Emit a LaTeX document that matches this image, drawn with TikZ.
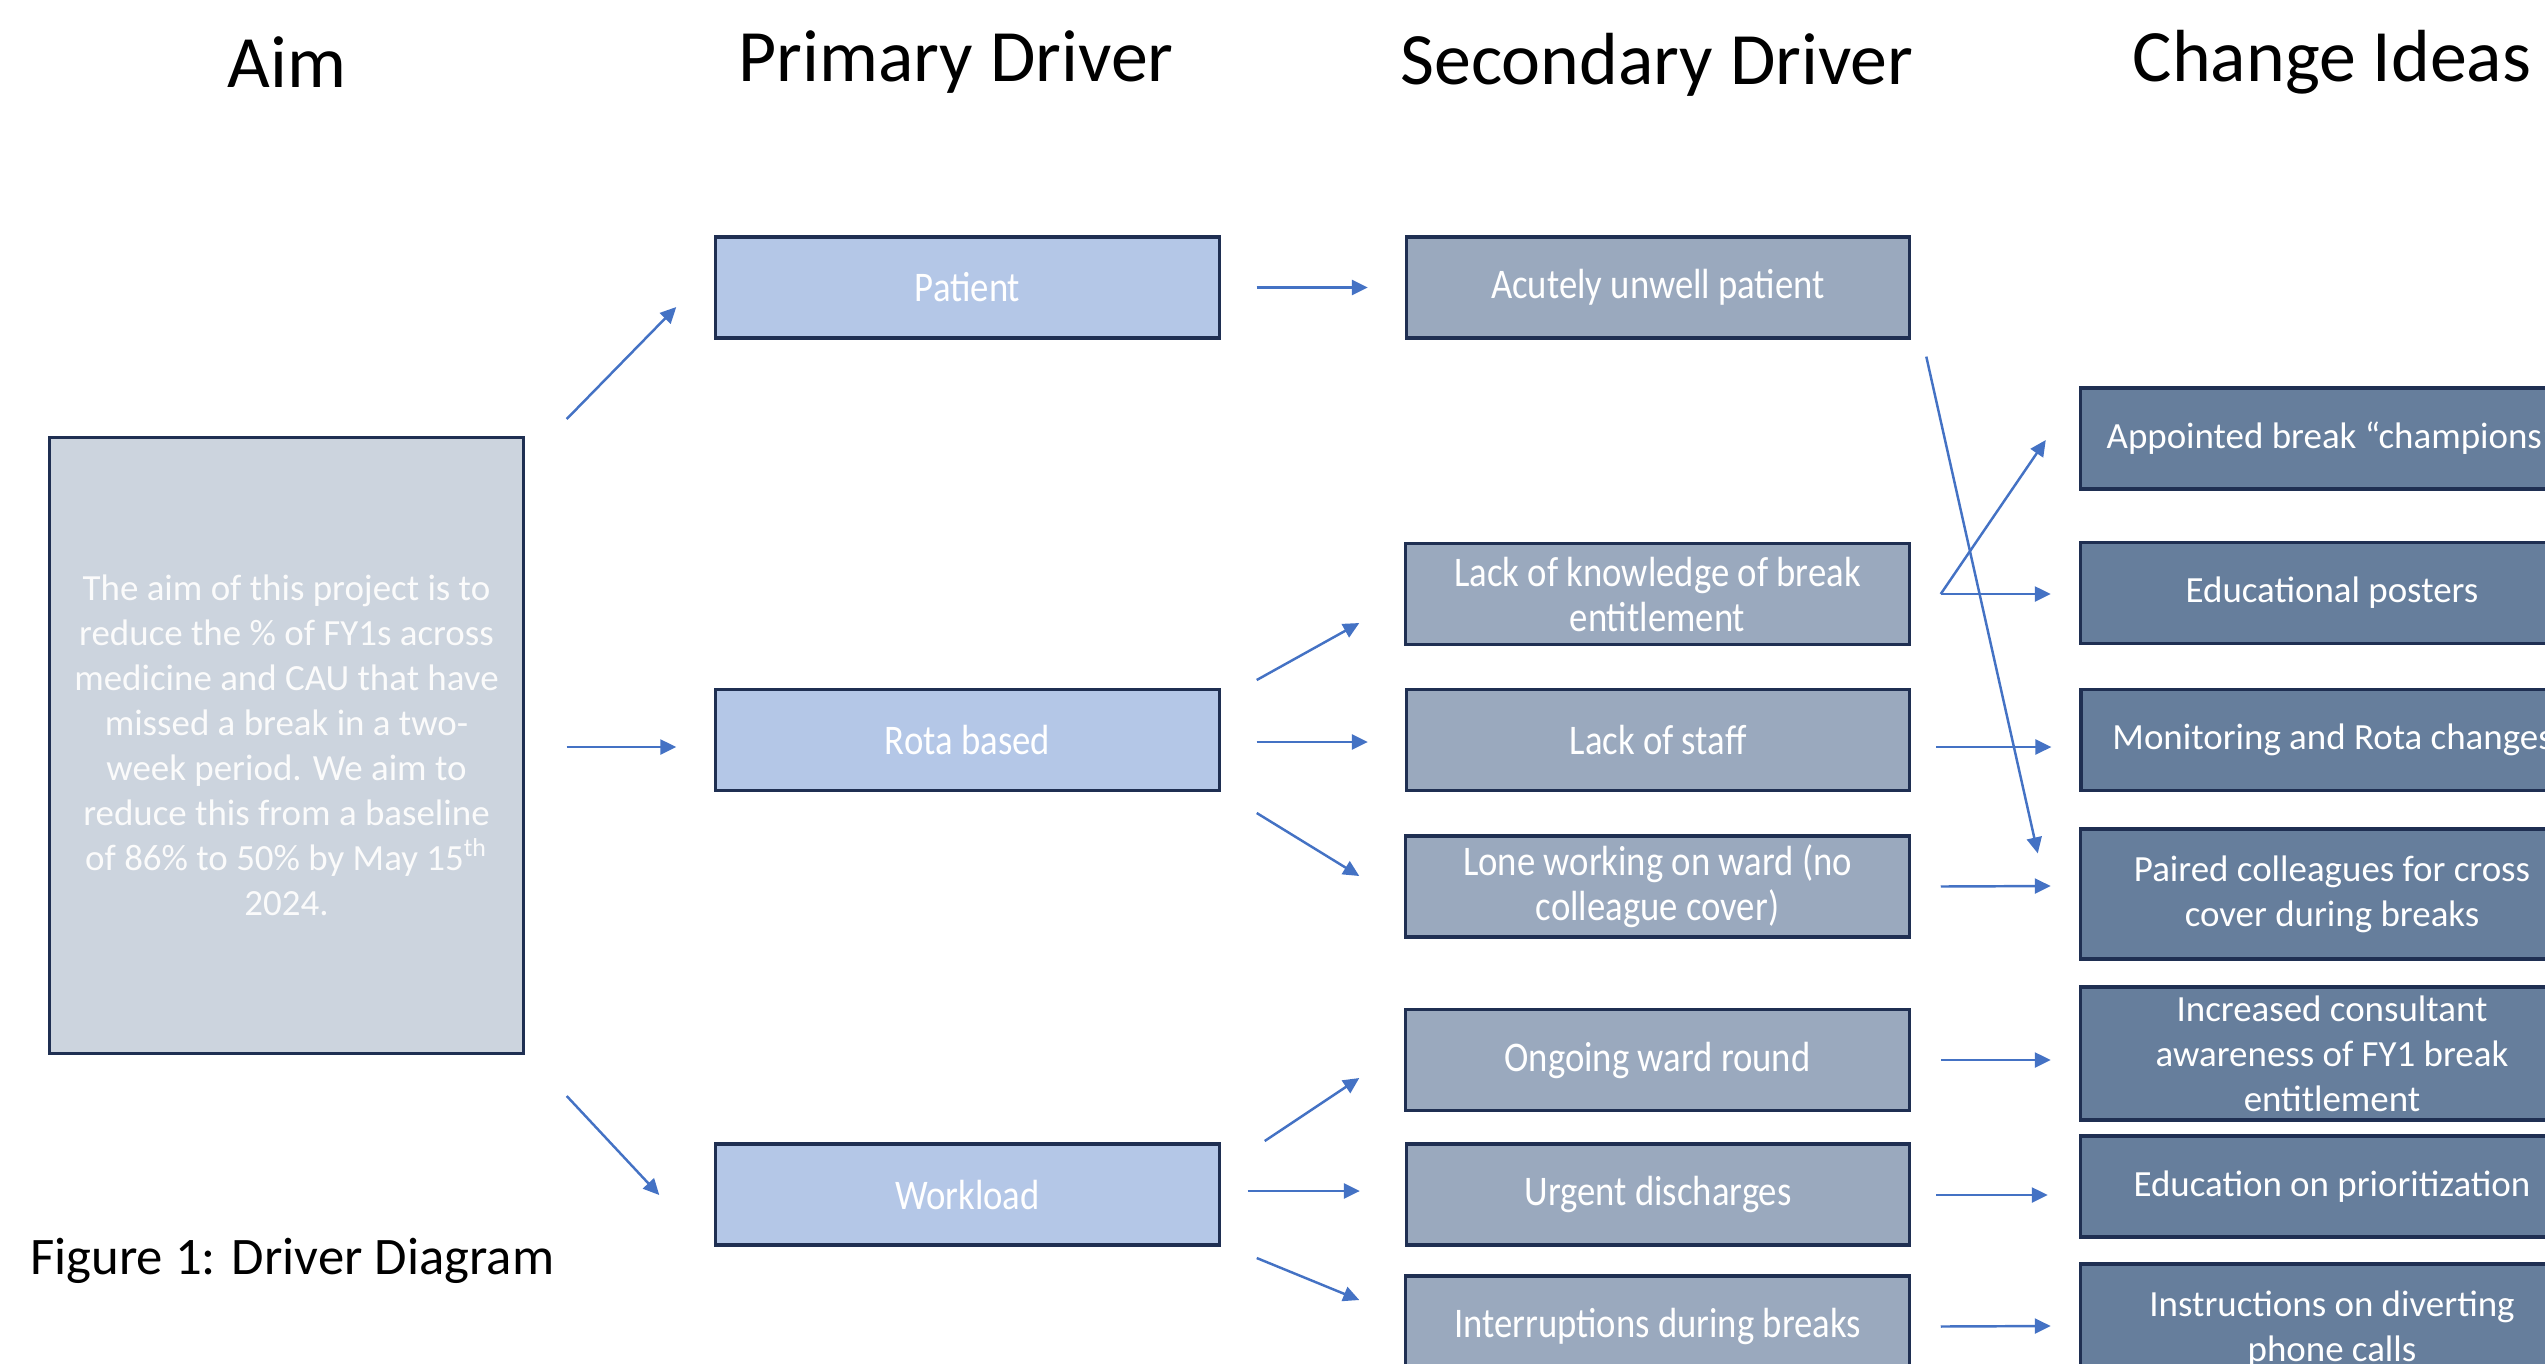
\documentclass[tikz,border=0pt]{standalone}
\usepackage{fontspec}
\setmainfont{Carlito}
\newfontfamily\narrowfont{Carlito}[FakeStretch=0.87]
\usetikzlibrary{positioning,arrows.meta,calc}
\definecolor{frame}{HTML}{1F2F52}
\definecolor{aimfill}{HTML}{CCD4DE}
\definecolor{primfill}{HTML}{B4C7E7}
\definecolor{secfill}{HTML}{9AA9BE}
\definecolor{ideafill}{HTML}{667E9C}
\definecolor{arrowblue}{HTML}{4472C4}

\begin{document}
\begin{tikzpicture}[x=0.01cm, y=-0.01cm,
      >={Triangle[length=1.6mm,width=1.5mm]},
      box/.style={draw=frame, line width=0.9pt, align=center, text=white,
                  inner xsep=2pt, inner ysep=0.5pt, minimum width=5.03cm, minimum height=1.01cm},
      prim/.style={box, fill=primfill, font=\narrowfont\fontsize{12}{12.8}\selectfont},
      sec/.style={box, fill=secfill, font=\narrowfont\fontsize{12}{12.8}\selectfont},
      idea/.style={box, fill=ideafill, font=\fontsize{10.5}{12.8}\selectfont},
      heading/.style={font=\fontsize{21}{25}\selectfont},
      arr/.style={->, draw=arrowblue, line width=0.7pt}]
    \useasboundingbox (0,0) rectangle (2545,1363);

    % column headings
    \node[heading] (haim) at (287,62) {Aim};
    \node[heading] (hprim) at (956,62) {Primary Driver};
    \node[heading] (hsec) at (1657,65) {Secondary Driver};
    \node[heading] (hidea) at (2332,62) {Change Ideas};
    \node[anchor=west, font=\fontsize{15}{18}\selectfont] (caption) at (18,1261) {Figure 1: Driver Diagram};

    % aim
    \node[box, fill=aimfill, text=white!97!gray, minimum width=4.73cm, minimum height=6.15cm,
          font=\fontsize{10.5}{12.8}\selectfont] (aim) at (286.5,745.5)
        {The aim of this project is to\\ reduce the \% of FY1s across\\ medicine and CAU that have\\
         missed a break in a two-\\ week period. We aim to\\ reduce this from a baseline\\
         of 86\% to 50\% by May 15\textsuperscript{th}\\ 2024.};

    % primary drivers
    \node[prim] (patient) at (967.5,287.5) {Patient};
    \node[prim] (rota) at (967.5,740) {Rota based};
    \node[prim] (workload) at (967.5,1194.5) {Workload};

    % secondary drivers
    \node[sec, right=1.84cm of patient] (acute) {Acutely unwell patient};
    \node[sec] (know) at (1657.5,594) {Lack of knowledge of break\\ entitlement};
    \node[sec, right=1.84cm of rota] (staff) {Lack of staff};
    \node[sec] (lone) at (1657.5,886.5) {Lone working on ward (no\\ colleague cover)};
    \node[sec] (round) at (1657.5,1060) {Ongoing ward round};
    \node[sec, right=1.84cm of workload] (urgent) {Urgent discharges};
    \node[sec] (interrupt) at (1657.5,1326.5) {Interruptions during breaks};

    % change ideas
    \node[idea] (champ) at (2332,438.5) {Appointed break “champions”};
    \node[idea] (posters) at (2332,593) {Educational posters};
    \node[idea, right=1.68cm of staff] (monitor) {Monitoring and Rota changes};
    \node[idea, minimum height=1.3cm] (paired) at (2332,894) {Paired colleagues for cross\\ cover during breaks};
    \node[idea, minimum height=1.33cm] (aware) at (2332,1053.5) {Increased consultant\\ awareness of FY1 break\\ entitlement};
    \node[idea] (prior) at (2332,1186.5) {Education on prioritization};
    \node[idea, minimum height=1.3cm] (divert) at (2332,1329) {Instructions on diverting\\ phone calls};

    % aim -> primary
    \draw[arr] ($(aim.east)+(42,-326.5)$) -- ($(patient.west)+(-38,19.5)$);
    \draw[arr] ($(aim.east)+(42,1.5)$) -- ($(rota.west)+(-38,7)$);
    \draw[arr] ($(aim.east)+(42,350.5)$) -- ($(workload.west)+(-55,0.5)$);
    % primary -> secondary
    \draw[arr] ($(patient.east)+(36,0)$) -- ($(acute.west)+(-37,0)$);
    \draw[arr] ($(rota.east)+(36,-60)$) -- ($(know.west)+(-45,29)$);
    \draw[arr] ($(rota.east)+(36,2)$) -- ($(staff.west)+(-37,2)$);
    \draw[arr] ($(rota.east)+(36,73)$) -- ($(lone.west)+(-45,-10.5)$);
    \draw[arr] ($(workload.east)+(44,-53.5)$) -- ($(round.west)+(-45,18)$);
    \draw[arr] ($(workload.east)+(27,-3.5)$) -- ($(urgent.west)+(-45,-3.5)$);
    \draw[arr] ($(workload.east)+(36,63.5)$) -- ($(interrupt.west)+(-45,-26.5)$);
    % secondary -> change ideas
    \draw[arr] ($(acute.south east)+(15,17)$) -- ($(paired.north west)+(-41,26)$);
    \draw[arr] ($(know.east)+(30,0)$) -- ($(champ.west)+(-33,1.5)$);
    \draw[arr] ($(know.east)+(30,0)$) -- ($(posters.west)+(-28,1)$);
    \draw[arr] ($(staff.east)+(25,7)$) -- ($(monitor.west)+(-28,7)$);
    \draw[arr] ($(lone.east)+(30,0)$) -- ($(paired.west)+(-28,-8)$);
    \draw[arr] ($(round.east)+(30,0)$) -- ($(aware.west)+(-28,6.5)$);
    \draw[arr] ($(urgent.east)+(25,0.5)$) -- ($(prior.west)+(-31,8.5)$);
    \draw[arr] ($(interrupt.east)+(30,0)$) -- ($(divert.west)+(-28,-3)$);
  \end{tikzpicture}
\end{document}
